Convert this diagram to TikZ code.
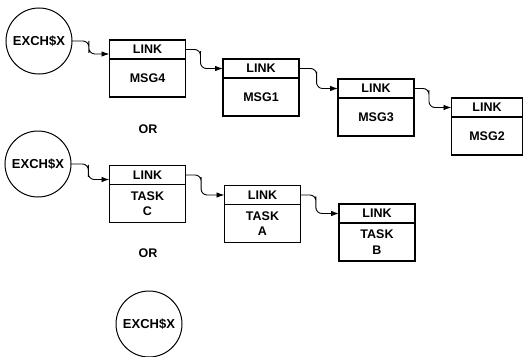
\documentclass[tikz,border=0pt]{standalone}
\usepackage{fontspec}
\setmainfont{Liberation Sans}
\usetikzlibrary{arrows.meta,positioning,calc}

\begin{document}
\begin{tikzpicture}[x=1pt,y=-1pt,every node/.style={font=\fontsize{12.5}{15.5}\selectfont\bfseries,align=center,inner sep=0pt,outer sep=0pt},linkbox/.style={draw,line width=1.1pt,minimum width=76pt,minimum height=19pt},bodybox/.style={draw,line width=1.1pt,minimum width=76pt,minimum height=38pt},exch/.style={draw,circle,line width=1pt,minimum size=66pt,font=\fontsize{13}{15}\selectfont\bfseries},wire/.style={-{Latex[length=8pt,width=5.5pt]},line width=0.9pt,rounded corners=6pt}]
\useasboundingbox (0,0) rectangle (524,356);
% message queue
\node[exch] (x1) at (39,41) {EXCH\$X};
\node[linkbox] (l4) at (147.5,49.5) {LINK};
\node[bodybox,below=0pt of l4] (m4) {MSG4};
\node[linkbox] (l1) at (261,68.5) {LINK};
\node[bodybox,below=0pt of l1] (m1) {MSG1};
\node[linkbox] (l3) at (376,88.5) {LINK};
\node[bodybox,below=0pt of l3] (m3) {MSG3};
\node[linkbox,minimum width=71pt] (l2) at (487,107.5) {LINK};
\node[bodybox,minimum width=71pt,below=0pt of l2] (m2) {MSG2};
\draw[wire] (x1.east) -| ($(x1.east)!0.45!([yshift=-4.5pt]l4.west)$) |- ([yshift=-4.5pt]l4.west);
\draw[wire] (l4.east) -| ($(l4.east)!0.4!(l1.west)$) |- (l1.west);
\draw[wire] (l1.east) -| ($(l1.east)!0.45!(l3.west)$) |- (l3.west);
\draw[wire] (l3.east) -| ($(l3.east)!0.4!(l2.west)$) |- (l2.west);
\node (or1) at (148,129) {OR};
% task queue
\node[exch] (x2) at (38,164) {EXCH\$X};
\node[linkbox] (lc) at (147.5,175) {LINK};
\node[bodybox,below=0pt of lc] (tc) {TASK\\C};
\node[linkbox] (la) at (262.5,195) {LINK};
\node[bodybox,below=0pt of la] (ta) {TASK\\A};
\node[linkbox] (lb) at (377,213.5) {LINK};
\node[bodybox,below=0pt of lb] (tb) {TASK\\B};
\draw[wire] (x2.east) -| ($(x2.east)!0.45!([yshift=-4.5pt]lc.west)$) |- ([yshift=-4.5pt]lc.west);
\draw[wire] (lc.east) -| ($(lc.east)!0.4!(la.west)$) |- (la.west);
\draw[wire] (la.east) -| ($(la.east)!0.4!(lb.west)$) |- (lb.west);
\node (or2) at (148,253) {OR};
% empty exchange
\node[exch] (x3) at (149,324) {EXCH\$X};
\end{tikzpicture}
\end{document}
